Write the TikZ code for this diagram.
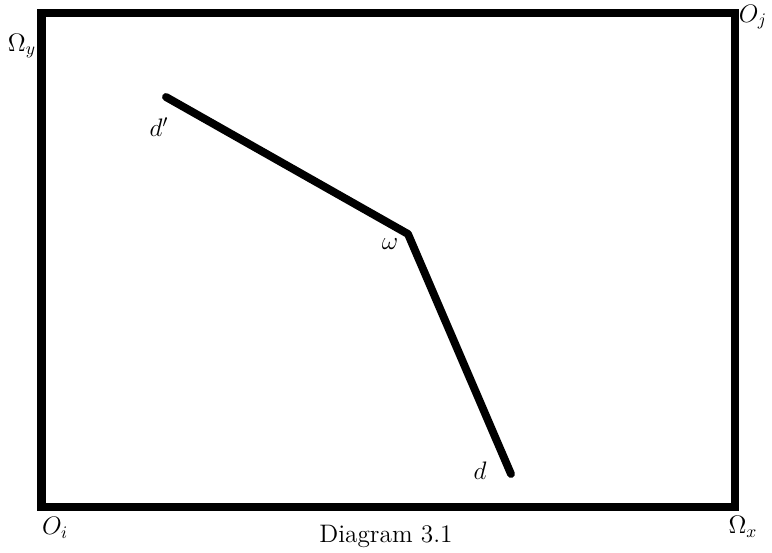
\documentclass[tikz,border=0pt]{standalone}
\usepackage{amsmath,amssymb}
\usetikzlibrary{positioning}
\tikzset{
  frame/.style = {line width=4.6pt, black, line join=miter},
  path/.style  = {line width=4.5pt, black, line cap=round, line join=round},
  lbl/.style   = {inner sep=0pt, font=\Large},
}
\begin{document}
\begin{tikzpicture}[x=0.02cm, y=-0.02cm]
  \useasboundingbox (0,0) rectangle (772,552);

  % frame corners
  \coordinate (oi) at (41.5,507);
  \coordinate (ox) at (735,507);
  \coordinate (oj) at (735,13);
  \coordinate (oy) at (41.5,13);
  \draw[frame] (oi) -- (ox) -- (oj) -- (oy) -- cycle;

  % corner labels
  \node[lbl] (Oy) at (22,46) {$\Omega_y$};
  \node[lbl] (Oj) at (753,17) {$O_j$};
  \node[lbl] (Oi) at (55,528) {$O_i$};
  \node[lbl] (Ox) at (743,527) {$\Omega_x$};
  \node[lbl] (cap) at (386,536) {Diagram 3.1};

  % broken line d' -- omega -- d
  \coordinate (dp) at (166,97);
  \coordinate (w)  at (408,234);
  \coordinate (d)  at (511,474);
  \draw[path] (dp) -- (w) -- (d);
  \node[lbl] (ldp) at (159,127) {$d'$};
  \node[lbl] (lw)  at (390,244) {$\omega$};
  \node[lbl] (ld)  at (480,471) {$d$};
\end{tikzpicture}
\end{document}
